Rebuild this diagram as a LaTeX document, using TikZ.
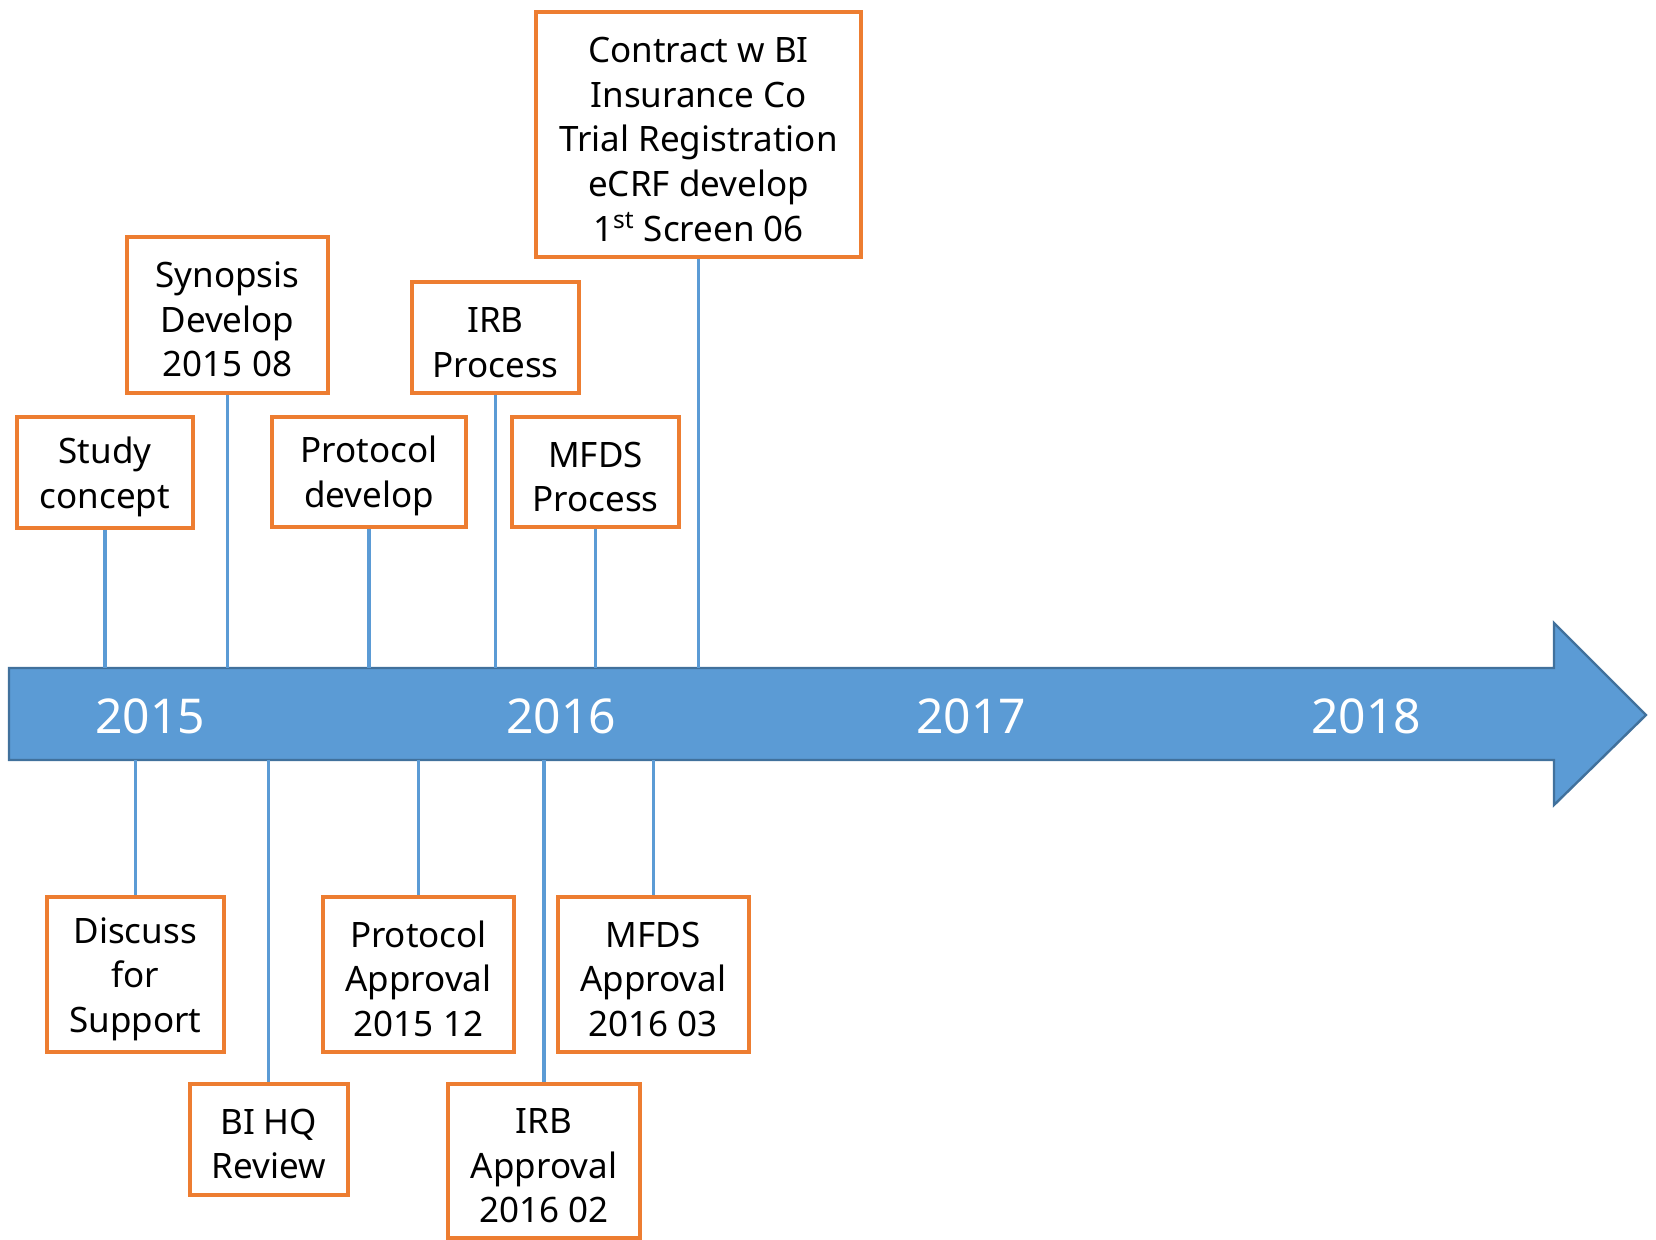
\documentclass[tikz,border=0pt]{standalone}
\usepackage{fontspec}
\setmainfont{Noto Sans}
\definecolor{boxorange}{HTML}{ED7D31}
\definecolor{tlblue}{HTML}{5B9BD5}
\definecolor{tledge}{HTML}{41719C}
\newcommand{\toppad}{\rule{0pt}{17.5pt}}
\begin{document}
\begin{tikzpicture}[x=0.5pt,y=-0.5pt,
  evbox/.style={draw=boxorange,line width=2pt,fill=white,align=center,
    inner sep=0pt,font=\fontsize{17.5pt}{22.3pt}\selectfont},
  yearlbl/.style={text=white,font=\fontsize{24pt}{28pt}\selectfont,inner sep=0pt},
  link/.style={draw=tlblue,line width=1.6pt}]
\useasboundingbox (0,0) rectangle (1656,1240);
% timeline arrow
\draw[fill=tlblue,draw=tledge,line width=1.2pt]
  (9,668) -- (1554,668) -- (1554,623) -- (1646,715) -- (1554,805) -- (1554,760) -- (9,760) -- cycle;
\coordinate (atop) at (0,668);
\coordinate (abot) at (0,760);
\node[yearlbl] (y15) at (150,716) {2015};
\node[yearlbl] (y16) at (561,716) {2016};
\node[yearlbl] (y17) at (971,716) {2017};
\node[yearlbl] (y18) at (1366,716) {2018};
% top boxes
\node[evbox,minimum width=88pt,minimum height=55.5pt] (study) at (105,472.5) {\toppad Study\\concept};
\node[evbox,minimum width=100.5pt,minimum height=78pt] (syn) at (227.5,315) {\toppad Synopsis\\Develop\\2015 08};
\node[evbox,minimum width=96.75pt,minimum height=55pt] (pdev) at (369,472) {\toppad Protocol\\develop};
\node[evbox,minimum width=83.5pt,minimum height=55.5pt] (irbp) at (495.5,337.5) {\toppad IRB\\Process};
\node[evbox,minimum width=83.5pt,minimum height=55pt] (mfdsp) at (595.5,472) {\toppad MFDS\\Process};
\node[evbox,minimum width=162.5pt,minimum height=122.5pt] (contract) at (698.5,134.5) {\toppad Contract w BI\\Insurance Co\\Trial Registration\\eCRF develop\\1\textsuperscript{st} Screen 06};
% bottom boxes
\node[evbox,minimum width=88.75pt,minimum height=77.75pt] (disc) at (135.25,974.3) {\toppad Discuss\\for\\Support};
\node[evbox,minimum width=78.75pt,minimum height=55.5pt] (bihq) at (268.75,1139) {\toppad BI HQ\\Review};
\node[evbox,minimum width=95.5pt,minimum height=77.75pt] (papp) at (418.5,974.3) {\toppad Protocol\\Approval\\2015 12};
\node[evbox,minimum width=96pt,minimum height=77pt] (irba) at (544,1161) {\toppad IRB\\Approval\\2016 02};
\node[evbox,minimum width=95.5pt,minimum height=77.75pt] (mfdsa) at (653.2,974.3) {\toppad MFDS\\Approval\\2016 03};
% connectors
\foreach \n in {study,syn,pdev,irbp,mfdsp,contract}
  \draw[link] (\n.south) -- (\n.south |- atop);
\foreach \n in {disc,bihq,papp,irba,mfdsa}
  \draw[link] (\n.north) -- (\n.north |- abot);
\end{tikzpicture}
\end{document}
